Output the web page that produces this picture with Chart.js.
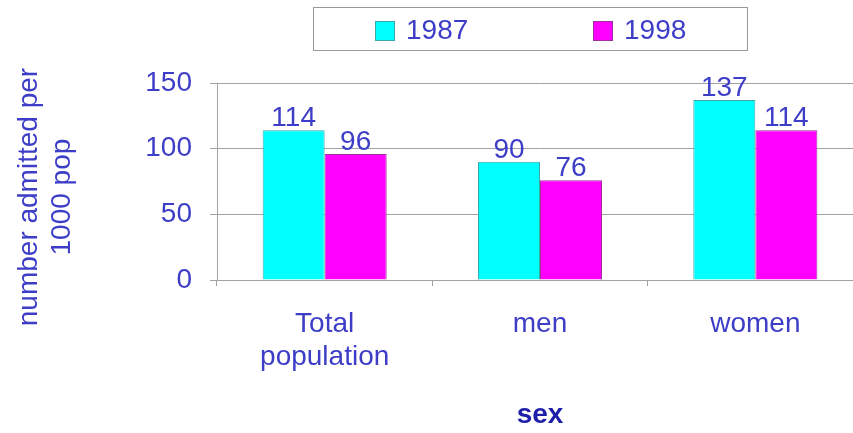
<!DOCTYPE html>
<html><head><meta charset="utf-8">
<script src="https://cdn.jsdelivr.net/npm/chart.js@4.4.0/dist/chart.umd.min.js"></script>
<style>
html,body{margin:0;padding:0;background:#fff;overflow:hidden;}
#wrap{position:relative;width:880px;height:433px;}
</style></head><body>
<div id="wrap"><canvas id="c"></canvas></div>
<script>
const categories = [["Total", "population"], "men", "women"];
const seriesNames = ["1987", "1998"];
const values1987 = [114, 90, 137];
const values1998 = [96, 76, 114];
const yMin = 0, yMax = 150, yStep = 50;
const yTitle = ["number admitted per    ", "1000 pop    "];
const xTitle = "sex";

const FONT = '"Liberation Sans", Arial, sans-serif';
const BLUE = '#3d3dc8';
const GRID = '#a3a3a3';
const colors = ['#00ffff', '#ff00ff'];
const borders = ['#3fa7a7', '#a030a0'];

const valueLabels = {
  id: 'valueLabels',
  afterDatasetsDraw(chart) {
    const ctx = chart.ctx;
    ctx.save();
    ctx.font = '28px ' + FONT;
    ctx.fillStyle = BLUE;
    ctx.textAlign = 'center';
    ctx.textBaseline = 'alphabetic';
    chart.data.datasets.forEach((ds, i) => {
      chart.getDatasetMeta(i).data.forEach((bar, j) => {
        ctx.fillText(String(ds.data[j]), bar.x, bar.y - 4);
      });
    });
    ctx.restore();
  }
};

const boxLegend = {
  id: 'boxLegend',
  afterDraw(chart) {
    const ctx = chart.ctx;
    ctx.save();
    ctx.fillStyle = '#fff';
    ctx.fillRect(313, 7, 434, 43);
    ctx.strokeStyle = '#9a9a9a';
    ctx.lineWidth = 1;
    ctx.strokeRect(313.5, 7.5, 434, 43);
    const starts = [375, 593];
    ctx.font = '28px ' + FONT;
    ctx.textBaseline = 'middle';
    ctx.textAlign = 'left';
    chart.data.datasets.forEach((ds, i) => {
      const x = starts[i];
      ctx.fillStyle = ds.backgroundColor;
      ctx.fillRect(x, 21, 20, 20);
      ctx.strokeStyle = ds.borderColor;
      ctx.strokeRect(x + 0.5, 21.5, 19, 19);
      ctx.fillStyle = BLUE;
      ctx.fillText(ds.label, x + 31, 31);
    });
    ctx.restore();
  }
};

new Chart(document.getElementById('c'), {
  type: 'bar',
  data: {
    labels: categories,
    datasets: [
      { label: seriesNames[0], data: values1987, backgroundColor: colors[0], borderColor: borders[0], borderWidth: 1 },
      { label: seriesNames[1], data: values1998, backgroundColor: colors[1], borderColor: borders[1], borderWidth: 1 }
    ]
  },
  options: {
    responsive: true,
    maintainAspectRatio: false,
    animation: false,
    layout: { padding: { top: 83, right: 17, left: 0, bottom: 0 } },
    plugins: { legend: { display: false }, tooltip: { enabled: false } },
    datasets: { bar: { categoryPercentage: 0.576, barPercentage: 1.0 } },
    scales: {
      x: {
        offset: true,
        grid: { display: true, drawOnChartArea: false, drawTicks: true, tickLength: 6, color: GRID, offset: true },
        border: { display: true, color: GRID },
        ticks: { color: BLUE, font: { family: FONT, size: 28 }, padding: 21, maxRotation: 0, autoSkip: false },
        title: { display: true, text: xTitle, color: '#1e1ea8', font: { family: FONT, size: 28, weight: 'bold' }, padding: { top: 24, bottom: 1 } },
        afterFit(scale) { scale.height = 153; }
      },
      y: {
        min: yMin, max: yMax,
        grid: { color: GRID, tickLength: 7, drawTicks: true },
        border: { display: true, color: GRID },
        ticks: { stepSize: yStep, color: BLUE, font: { family: FONT, size: 28 }, padding: 18 },
        title: { display: true, text: yTitle, color: BLUE, font: { family: FONT, size: 28 }, padding: { top: 12, bottom: 0 } },
        afterFit(scale) { scale.width = 217; }
      }
    }
  },
  plugins: [valueLabels, boxLegend]
});
</script>
</body></html>
